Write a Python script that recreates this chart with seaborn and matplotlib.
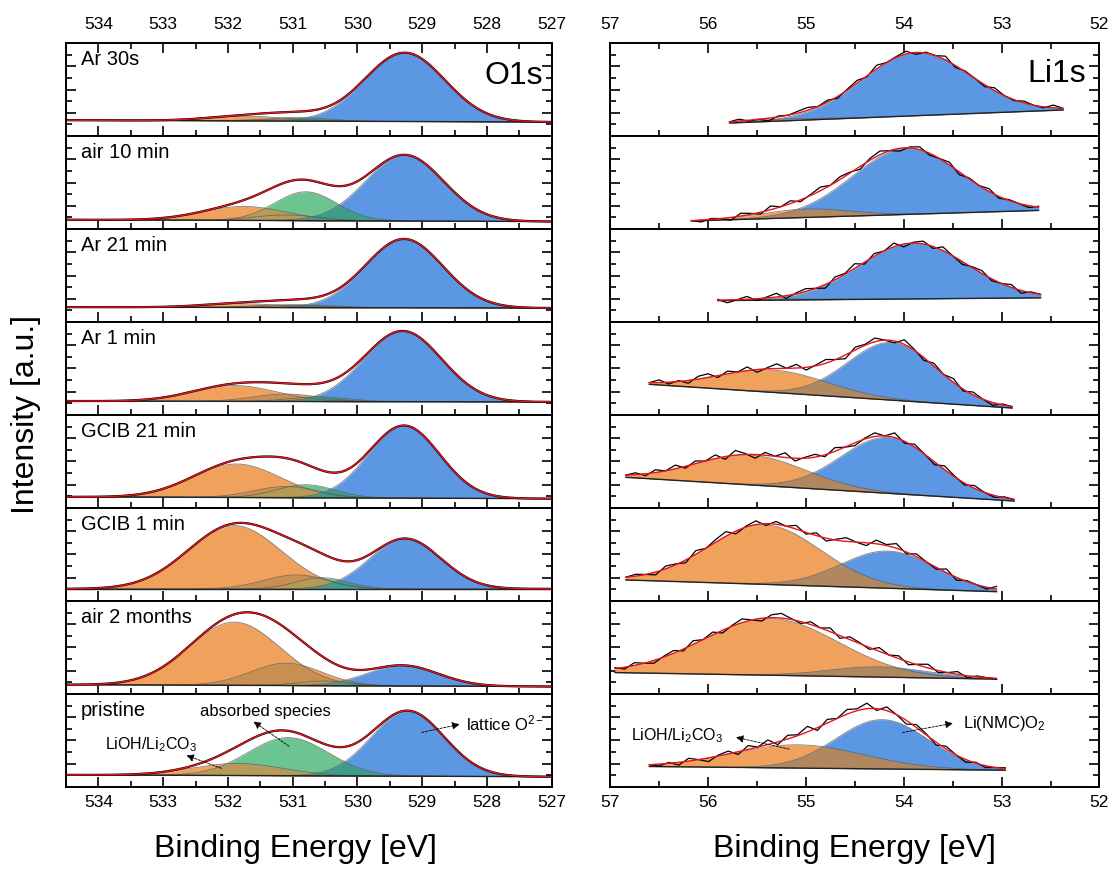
import numpy as np
import seaborn as sns
import matplotlib.pyplot as plt
from matplotlib.ticker import MultipleLocator

# ---- data (y in panel fraction 0..1) ----
labels = ['Ar 30s', 'air 10 min', 'Ar 21 min', 'Ar 1 min',
          'GCIB 21 min', 'GCIB 1 min', 'air 2 months', 'pristine']

# O1s background at 534.5 eV and 527 eV
o1s_base = [(0.17, 0.15), (0.10, 0.08), (0.16, 0.15), (0.15, 0.14),
            (0.12, 0.10), (0.13, 0.13), (0.10, 0.08), (0.13, 0.11)]
# peaks: (centre eV, height, sigma eV)
o1s_lioh = [(531.7, 0.05, 0.60), (531.75, 0.15, 0.65), (531.8, 0.04, 0.60), (531.9, 0.17, 0.65),
            (531.87, 0.36, 0.68), (531.9, 0.68, 0.72), (531.9, 0.68, 0.70), (531.85, 0.13, 0.70)]
o1s_lioh2 = [(531.1, 0.02, 0.50), (531.1, 0.06, 0.50), (531.1, 0.03, 0.50), (531.1, 0.08, 0.50),
             (531.1, 0.12, 0.50), (530.95, 0.15, 0.50), (531.1, 0.24, 0.55), (531.3, 0.0, 0.50)]
o1s_absorbed = [(530.9, 0.04, 0.45), (530.8, 0.31, 0.48), (530.8, 0.03, 0.45), (530.6, 0.05, 0.45),
                (530.8, 0.14, 0.45), (530.55, 0.12, 0.40), (530.5, 0.05, 0.40), (531.07, 0.41, 0.62)]
o1s_lattice = [(529.27, 0.74, 0.62), (529.27, 0.71, 0.60), (529.28, 0.74, 0.60), (529.3, 0.76, 0.60),
               (529.28, 0.78, 0.55), (529.26, 0.54, 0.55), (529.3, 0.22, 0.55), (529.22, 0.70, 0.56)]

# Li1s: measured range, background at range ends, peaks, residual of data vs fit
li1s_range = [(55.78, 52.37), (56.17, 52.62), (55.9, 52.6), (56.6, 52.89),
              (56.84, 52.87), (56.84, 53.05), (56.95, 53.05), (56.6, 52.96)]
li1s_base = [(0.14, 0.28), (0.087, 0.20), (0.23, 0.26), (0.33, 0.075),
             (0.33, 0.075), (0.226, 0.10), (0.23, 0.16), (0.22, 0.18)]
li1s_lioh = [(55.3, 0.02, 0.45), (55.0, 0.09, 0.45), (55.2, 0.01, 0.45), (55.33, 0.24, 0.55),
             (55.56, 0.32, 0.56), (55.42, 0.64, 0.57), (55.36, 0.61, 0.69), (55.08, 0.25, 0.67)]
li1s_nmc = [(53.87, 0.68, 0.55), (53.97, 0.71, 0.55), (53.9, 0.60, 0.55), (54.12, 0.62, 0.45),
            (54.16, 0.60, 0.48), (54.16, 0.40, 0.48), (54.25, 0.11, 0.50), (54.22, 0.53, 0.47)]
li1s_resid = [
    [0.00, 0.02, -0.01, 0.00, -0.03, 0.01, 0.00, 0.02, 0.03, 0.00, 0.02, -0.02, 0.01, 0.03, -0.01, 0.04, 0.00, 0.01,
     0.03, -0.02, 0.01, 0.00, 0.04, -0.02, 0.01, 0.00, -0.02, 0.03, 0.00, -0.01, 0.02, 0.00, -0.01, 0.03, 0.00],
    [0.00, -0.02, 0.01, 0.00, -0.03, 0.03, 0.01, -0.02, 0.04, 0.00, 0.03, -0.02, 0.01, 0.04, 0.00, 0.03, 0.01, -0.03,
     0.02, 0.04, 0.00, -0.03, 0.01, 0.03, -0.02, 0.00, 0.03, -0.03, 0.01, 0.00, 0.03, -0.02, 0.01, 0.00, -0.02, 0.01],
    [0.01, -0.03, 0.00, 0.03, -0.02, 0.01, 0.04, -0.03, 0.01, 0.03, 0.00, -0.04, 0.03, 0.01, 0.05, -0.02, 0.03,
     0.00, 0.04, -0.03, 0.01, 0.03, -0.02, 0.04, 0.00, -0.03, 0.01, 0.03, -0.02, 0.00, 0.03, -0.03, 0.01, 0.00],
    [0.00, 0.03, -0.02, 0.01, -0.03, 0.03, 0.04, -0.02, 0.03, 0.00, 0.04, -0.03, 0.01, 0.05, 0.00, 0.04, -0.03, 0.01,
     0.04, 0.00, -0.04, 0.03, 0.01, 0.04, 0.00, -0.02, 0.05, 0.01, -0.03, 0.03, 0.00, 0.04, -0.02, 0.03, 0.00, -0.03,
     0.01, 0.00],
    [0.00, 0.02, -0.02, 0.03, 0.00, 0.04, -0.02, 0.03, 0.00, 0.04, -0.03, 0.05, 0.01, -0.04, 0.03, 0.00, 0.05, -0.03,
     0.01, 0.03, -0.02, 0.04, 0.00, -0.03, 0.01, 0.04, 0.00, 0.05, -0.02, 0.03, 0.00, -0.03, 0.04, 0.01, -0.02, 0.03,
     0.00, -0.02, 0.01, 0.00],
    [0.00, 0.02, 0.00, -0.03, 0.03, 0.01, -0.03, 0.04, 0.00, 0.03, 0.05, -0.03, 0.01, 0.04, -0.02, 0.03, 0.00, 0.04,
     -0.02, 0.03, -0.03, 0.01, 0.04, 0.00, -0.03, 0.04, 0.01, 0.05, -0.02, 0.03, 0.00, -0.02, 0.04, -0.03, 0.01, 0.00,
     -0.02, 0.03],
    [0.01, -0.02, 0.03, 0.00, -0.03, 0.01, 0.03, -0.02, 0.04, 0.00, 0.03, -0.03, 0.01, 0.04, 0.00, -0.03, 0.03, 0.05,
     0.01, -0.02, 0.03, 0.00, 0.04, -0.03, 0.03, 0.01, -0.02, 0.04, 0.00, 0.03, -0.03, 0.01, 0.04, -0.02, 0.00, 0.03,
     -0.02, 0.01, 0.00, -0.01],
    [0.00, -0.02, 0.01, -0.03, 0.03, 0.00, -0.04, 0.01, 0.03, -0.03, 0.04, 0.00, 0.05, -0.03, 0.04, 0.01, 0.06, -0.03,
     0.04, 0.00, 0.05, 0.02, 0.06, -0.02, 0.04, 0.00, -0.04, 0.03, 0.01, -0.03, 0.03, 0.00, -0.03, 0.01, -0.02, 0.00,
     0.01],
]

ORANGE = '#f0a25c'
GREEN = '#6cc591'
BLUE = '#5b97e3'
overlap_colors = {
    ('o', 'o'): '#c98f52',
    ('o', 'g'): '#b59a58',
    ('o', 'b'): '#b0875f',
    ('g', 'b'): '#3e9c8c',
}


def gauss(x, c, h, s):
    return h * np.exp(-0.5 * ((x - c) / s) ** 2)


def draw_fit(ax, x, base, comps, kinds):
    cols = {'o': ORANGE, 'g': GREEN, 'b': BLUE}
    ys = [gauss(x, *c) for c in comps]
    for y, k in zip(ys, kinds):
        ax.fill_between(x, base, base + y, color=cols[k], lw=0)
    for i in range(len(ys)):
        for j in range(i + 1, len(ys)):
            ov = np.minimum(ys[i], ys[j])
            ax.fill_between(x, base, base + ov, color=overlap_colors[(kinds[i], kinds[j])], lw=0)
    for y in ys:
        ax.plot(x, base + y, color='#606060', lw=0.6, alpha=0.8)
    env = base + sum(ys)
    sns.lineplot(x=x, y=base, ax=ax, color='#222222', lw=1.0, legend=False)
    return env


sns.set_theme(style='ticks', rc={'axes.linewidth': 1.4, 'mathtext.default': 'regular',
                                 'axes.edgecolor': 'black', 'text.color': 'black',
                                 'xtick.color': 'black', 'ytick.color': 'black',
                                 'axes.labelcolor': 'black'})
plt.rcParams['font.family'] = ['Liberation Sans', 'DejaVu Sans']

fig = plt.figure(figsize=(11.1, 8.7), dpi=100)
gl = fig.add_gridspec(8, 1, left=0.0595, right=0.497, top=0.9494, bottom=0.0943, hspace=0)
gr = fig.add_gridspec(8, 1, left=0.5495, right=0.9905, top=0.9494, bottom=0.0943, hspace=0)

x_o = np.linspace(534.5, 527, 400)
axes_l, axes_r = [], []
for i in range(8):
    ax = fig.add_subplot(gl[i])
    base = np.linspace(o1s_base[i][0], o1s_base[i][1], x_o.size)
    comps = [o1s_lioh[i], o1s_lioh2[i], o1s_absorbed[i], o1s_lattice[i]]
    env = draw_fit(ax, x_o, base, comps, ['o', 'o', 'g', 'b'])
    sns.lineplot(x=x_o, y=env, ax=ax, color='black', lw=1.6, legend=False)
    sns.lineplot(x=x_o, y=env, ax=ax, color='#e8141b', lw=1.0, legend=False)
    ax.set_xlim(534.5, 527)
    ax.text(0.03, 0.83, labels[i], transform=ax.transAxes, fontsize=14.5, va='center', ha='left')
    axes_l.append(ax)

    ax = fig.add_subplot(gr[i])
    e0, e1 = li1s_range[i]
    res = np.array(li1s_resid[i])
    xs = np.linspace(e0, e1, 200)
    base = np.interp(xs, [e1, e0], [li1s_base[i][1], li1s_base[i][0]])
    comps = [li1s_lioh[i], li1s_nmc[i]]
    env = draw_fit(ax, xs, base, comps, ['o', 'b'])
    xd = np.linspace(e0, e1, res.size)
    based = np.interp(xd, [e1, e0], [li1s_base[i][1], li1s_base[i][0]])
    data_line = based + sum(gauss(xd, *c) for c in comps) + res
    sns.lineplot(x=xd, y=data_line, ax=ax, color='black', lw=0.9, legend=False)
    sns.lineplot(x=xs, y=env, ax=ax, color='#e8141b', lw=1.0, legend=False)
    ax.set_xlim(57, 52)
    axes_r.append(ax)

for col in (axes_l, axes_r):
    for i, ax in enumerate(col):
        ax.set_ylim(0, 1)
        ax.xaxis.set_major_locator(MultipleLocator(1))
        ax.xaxis.set_minor_locator(MultipleLocator(0.5))
        ax.yaxis.set_major_locator(MultipleLocator(0.25))
        ax.yaxis.set_minor_locator(MultipleLocator(0.125))
        ax.tick_params(which='both', direction='in', left=True, right=True, bottom=True,
                       top=(i == 0), labelleft=False, labelbottom=(i == 7), labeltop=(i == 0),
                       labelsize=12.5, width=1.2)
        ax.tick_params(which='major', length=7)
        ax.tick_params(which='minor', length=4)
        ax.tick_params(axis='x', which='major', pad=5)
        if i == 0:
            ax.tick_params(axis='x', which='major', pad=9)
        ax.set_xlabel('')
        ax.set_ylabel('')

axes_l[0].text(0.982, 0.66, 'O1s', transform=axes_l[0].transAxes, fontsize=23, ha='right', va='center')
axes_r[0].text(0.972, 0.68, 'Li1s', transform=axes_r[0].transAxes, fontsize=23, ha='right', va='center')

# annotations on the pristine panels
arrow = dict(arrowstyle='-|>', color='black', lw=0.6, ls=(0, (3, 1.5)), mutation_scale=11)
ap = axes_l[7]
ap.text(531.42, 0.82, 'absorbed species', fontsize=12, ha='center', va='center')
ap.annotate('', xy=(531.64, 0.72), xytext=(531.02, 0.42), arrowprops=arrow)
ap.text(533.18, 0.47, 'LiOH/Li$_2$CO$_3$', fontsize=11.5, ha='center', va='center')
ap.annotate('', xy=(532.68, 0.35), xytext=(532.06, 0.19), arrowprops=arrow)
ap.text(528.32, 0.69, 'lattice O$^{2-}$', fontsize=12, ha='left', va='center')
ap.annotate('', xy=(528.38, 0.68), xytext=(529.05, 0.58), arrowprops=arrow)

bp = axes_r[7]
bp.text(53.39, 0.69, 'Li(NMC)O$_2$', fontsize=12, ha='left', va='center')
bp.annotate('', xy=(53.47, 0.69), xytext=(54.04, 0.58), arrowprops=arrow)
bp.text(56.31, 0.56, 'LiOH/Li$_2$CO$_3$', fontsize=11.5, ha='center', va='center')
bp.annotate('', xy=(55.74, 0.54), xytext=(55.14, 0.40), arrowprops=arrow)

fig.text(0.023, 0.523, 'Intensity [a.u.]', rotation=90, fontsize=23, ha='center', va='center')
fig.text(0.266, 0.024, 'Binding Energy [eV]', fontsize=23, ha='center', va='center')
fig.text(0.770, 0.024, 'Binding Energy [eV]', fontsize=23, ha='center', va='center')

fig.savefig('out.png', dpi=100)
